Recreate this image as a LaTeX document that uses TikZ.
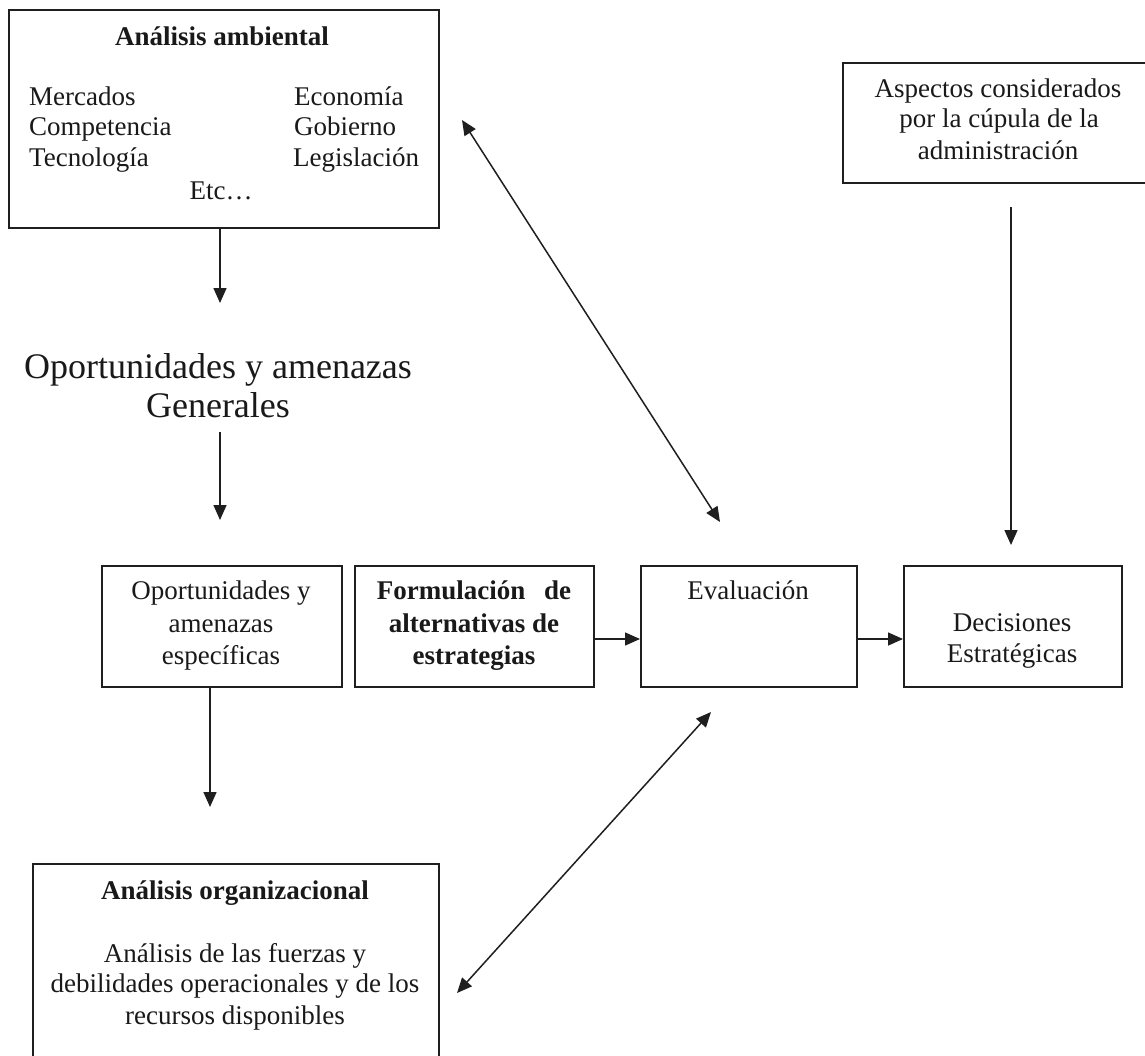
\documentclass[tikz,border=0pt]{standalone}
\usepackage{fontspec}
\setmainfont{Liberation Serif}
\usetikzlibrary{arrows.meta}
\begin{document}
\begin{tikzpicture}[x=1pt,y=-1pt,
  frame/.style={draw=black!88, line width=1.7pt, inner sep=0pt, anchor=north west},
  txt/.style={inner sep=0pt, anchor=base, text=black!90, font=\fontsize{27}{31}\selectfont},
  txtb/.style={txt, font=\fontsize{27}{31}\selectfont\bfseries},
  txtl/.style={txt, anchor=base west},
  big/.style={txt, font=\fontsize{36}{40}\selectfont},
  conn/.style={draw=black!88, line width=1.5pt, -{Triangle[length=15pt,width=13pt]}},
  dconn/.style={draw=black!88, line width=1.5pt, {Triangle[length=15pt,width=13pt]}-{Triangle[length=15pt,width=13pt]}}]
\useasboundingbox[fill=white] (0,0) rectangle (1145,1055);

% boxes
\node[frame, minimum width=430pt, minimum height=218pt] (amb) at (8,9) {};
\node[frame, minimum width=312pt, minimum height=120pt] (asp) at (842,62) {};
\node[frame, minimum width=240pt, minimum height=121pt] (opo) at (101,565) {};
\node[frame, minimum width=239pt, minimum height=121pt] (form) at (354,565) {};
\node[frame, minimum width=216pt, minimum height=121pt] (eval) at (640,565) {};
\node[frame, minimum width=218pt, minimum height=121pt] (dec) at (903,565) {};
\node[frame, minimum width=406pt, minimum height=260pt] (org) at (32,863) {};

% Análisis ambiental
\node[txtb] (ambT) at (222,45) {Análisis ambiental};
\node[txtl] (m1) at (29,105) {Mercados};
\node[txtl] (m2) at (29,135) {Competencia};
\node[txtl] (m3) at (29,166) {Tecnología};
\node[txtl] (m4) at (294,105) {Economía};
\node[txtl] (m5) at (294,135) {Gobierno};
\node[txtl] (m6) at (293,166) {Legislación};
\node[txt] (m7) at (221,199) {Etc…};

% Aspectos
\node[txt] (as1) at (998,97) {Aspectos considerados};
\node[txt] (as2) at (999,127) {por la cúpula de la};
\node[txt] (as3) at (998,159) {administración};

% Oportunidades generales
\node[big] (g1) at (218,378) {Oportunidades y amenazas};
\node[big] (g2) at (218,417) {Generales};

% row
\node[txt] (o1) at (221,599) {Oportunidades y};
\node[txt] (o2) at (221,632) {amenazas};
\node[txt] (o3) at (221,664) {específicas};
\node[txtb] (f1) at (474,599) {Formulación\hspace{0.45em} de};
\node[txtb] (f2) at (474,632) {alternativas de};
\node[txtb] (f3) at (474,664) {estrategias};
\node[txt] (e1) at (748,599) {Evaluación};
\node[txt] (d1t) at (1012,631) {Decisiones};
\node[txt] (d2t) at (1012,662) {Estratégicas};

% organizacional
\node[txtb] (orgT) at (235,899) {Análisis organizacional};
\node[txt] (og1) at (235,962) {Análisis de las fuerzas y};
\node[txt] (og2) at (235,992) {debilidades operacionales y de los};
\node[txt] (og3) at (235,1024) {recursos disponibles};

% connector ends
\coordinate (t1) at (220,303);
\coordinate (s2) at (220,432);
\coordinate (t2) at (220,520);
\coordinate (t3) at (210,807);
\coordinate (hy) at (0,639);
\coordinate (a1) at (1011,207);
\coordinate (a2) at (1011,545);
\coordinate (dA) at (462,120);
\coordinate (dB) at (720,522);
\coordinate (dC) at (457,993);
\coordinate (dD) at (711,712);

\draw[conn] (amb.south -| t1) -- (t1);
\draw[conn] (s2) -- (t2);
\draw[conn] (opo.south -| t3) -- (t3);
\draw[conn] (form.east |- hy) -- (eval.west |- hy);
\draw[conn] (eval.east |- hy) -- (dec.west |- hy);
\draw[conn] (a1) -- (a2);
\draw[dconn] (dA) -- (dB);
\draw[dconn] (dC) -- (dD);
\end{tikzpicture}
\end{document}
